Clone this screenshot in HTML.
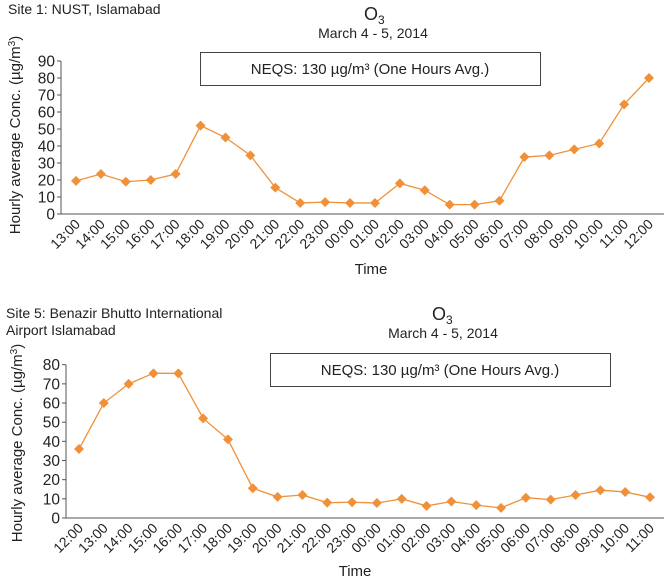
<!DOCTYPE html>
<html><head><meta charset="utf-8"><style>
html,body{margin:0;padding:0;background:#fff}
svg{display:block;font-family:"Liberation Sans",Arial,sans-serif}
</style></head><body>
<svg id="c" width="664" height="582" viewBox="0 0 664 582">
<text x="8" y="14" font-size="14" fill="#222">Site 1: NUST, Islamabad</text>
<text x="364" y="20" font-size="18" fill="#222">O<tspan font-size="12" dy="4">3</tspan></text>
<text x="373" y="38" font-size="14" fill="#222" text-anchor="middle">March 4 - 5, 2014</text>
<rect x="200.5" y="52.5" width="340" height="33" fill="#fff" stroke="#444"/>
<text x="370" y="74" font-size="15" fill="#222" text-anchor="middle">NEQS: 130 µg/m³  (One Hours Avg.)</text>
<text x="6" y="558" font-size="14" fill="#222"><tspan x="6" y="318">Site 5: Benazir Bhutto International</tspan><tspan x="6" y="335">Airport Islamabad</tspan></text>
<text x="432" y="320" font-size="18" fill="#222">O<tspan font-size="12" dy="4">3</tspan></text>
<text x="443" y="338" font-size="14" fill="#222" text-anchor="middle">March 4 - 5, 2014</text>
<rect x="270.5" y="353.5" width="340" height="33" fill="#fff" stroke="#444"/>
<text x="440" y="375" font-size="15" fill="#222" text-anchor="middle">NEQS: 130 µg/m³  (One Hours Avg.)</text>
</svg>
<script>
const cats1=["13:00","14:00","15:00","16:00","17:00","18:00","19:00","20:00","21:00","22:00","23:00","00:00","01:00","02:00","03:00","04:00","05:00","06:00","07:00","08:00","09:00","10:00","11:00","12:00"];
const vals1=[19.5,23.5,19,20,23.5,52,45,34.5,15.5,6.5,7,6.5,6.5,18,14,5.5,5.5,7.8,33.5,34.5,38,41.5,64.5,80];
const ticks1=[0,10,20,30,40,50,60,70,80,90];
const cats2=["12:00","13:00","14:00","15:00","16:00","17:00","18:00","19:00","20:00","21:00","22:00","23:00","00:00","01:00","02:00","03:00","04:00","05:00","06:00","07:00","08:00","09:00","10:00","11:00"];
const vals2=[36,60,70,75.5,75.5,52,41,15.5,11,12,8,8.2,7.8,10,6.3,8.6,6.7,5.3,10.6,9.6,12,14.5,13.6,10.8];
const ticks2=[0,10,20,30,40,50,60,70,80];
const NS="http://www.w3.org/2000/svg";
const svg=document.getElementById('c');
function mk(t,a){const e=document.createElementNS(NS,t);for(const k in a)e.setAttribute(k,a[k]);svg.appendChild(e);return e;}
function chart(p,cats,vals,ticks){
  const ymax=ticks[ticks.length-1];
  const y=v=>p.y0-(v/ymax)*(p.y0-p.y1);
  const x=i=>p.x0+i*(p.xn-p.x0)/(cats.length-1);
  let e=mk('line',{x1:p.ax,y1:p.y1,x2:p.ax,y2:p.y0,stroke:'#555','stroke-width':1});
  
  
  e=mk('line',{x1:p.ax-4,y1:p.y0,x2:664,y2:p.y0,stroke:'#555','stroke-width':1});
  
  
  ticks.forEach(t=>{
    const tk=mk('line',{x1:p.ax-4,y1:y(t),x2:p.ax,y2:y(t),stroke:'#555'});
    
    
    const tl=mk('text',{x:p.ax-6,y:y(t)+5.5,'font-size':15.5,'text-anchor':'end',fill:'#222'});
    tl.textContent=t;
    
    
  });
  cats.forEach((c,i)=>{
    const tl=mk('text',{x:x(i)+5,y:p.y0+11,'font-size':14,'text-anchor':'end',fill:'#222',transform:`rotate(-45 ${x(i)+5} ${p.y0+11})`});
    tl.textContent=c;
    
    
  });
  const pl=mk('polyline',{points:vals.map((v,i)=>x(i)+','+y(v)).join(' '),fill:'none',stroke:'#f0913a','stroke-width':1.3});
  
  
  vals.forEach((v,i)=>{
    const cx=x(i),cy=y(v),s=5;
    const m=mk('polygon',{points:`${cx},${cy-s} ${cx+s},${cy} ${cx},${cy+s} ${cx-s},${cy}`,fill:'#f0913a'});
    
    
  });
  const yt=mk('text',{x:0,y:0,'font-size':15,'text-anchor':'middle',fill:'#222',transform:`translate(${p.ytx},${p.yty}) rotate(-90)`});
  yt.innerHTML='Hourly average Conc. (µg/m<tspan font-size="10" dy="-5">3</tspan><tspan dy="5">)</tspan>';
  
  
  const xt=mk('text',{x:p.xtx,y:p.xty,'font-size':15,'text-anchor':'middle',fill:'#222'});
  xt.textContent='Time';
  
  
}
chart({id:'chart1',ax:61,x0:76,xn:649,y0:214,y1:61,ytx:20,yty:135,xtx:371,xty:274},cats1,vals1,ticks1);
chart({id:'chart2',ax:66,x0:79,xn:650,y0:518,y1:364.7,ytx:22,yty:443,xtx:355,xty:576},cats2,vals2,ticks2);
</script>
</body></html>
